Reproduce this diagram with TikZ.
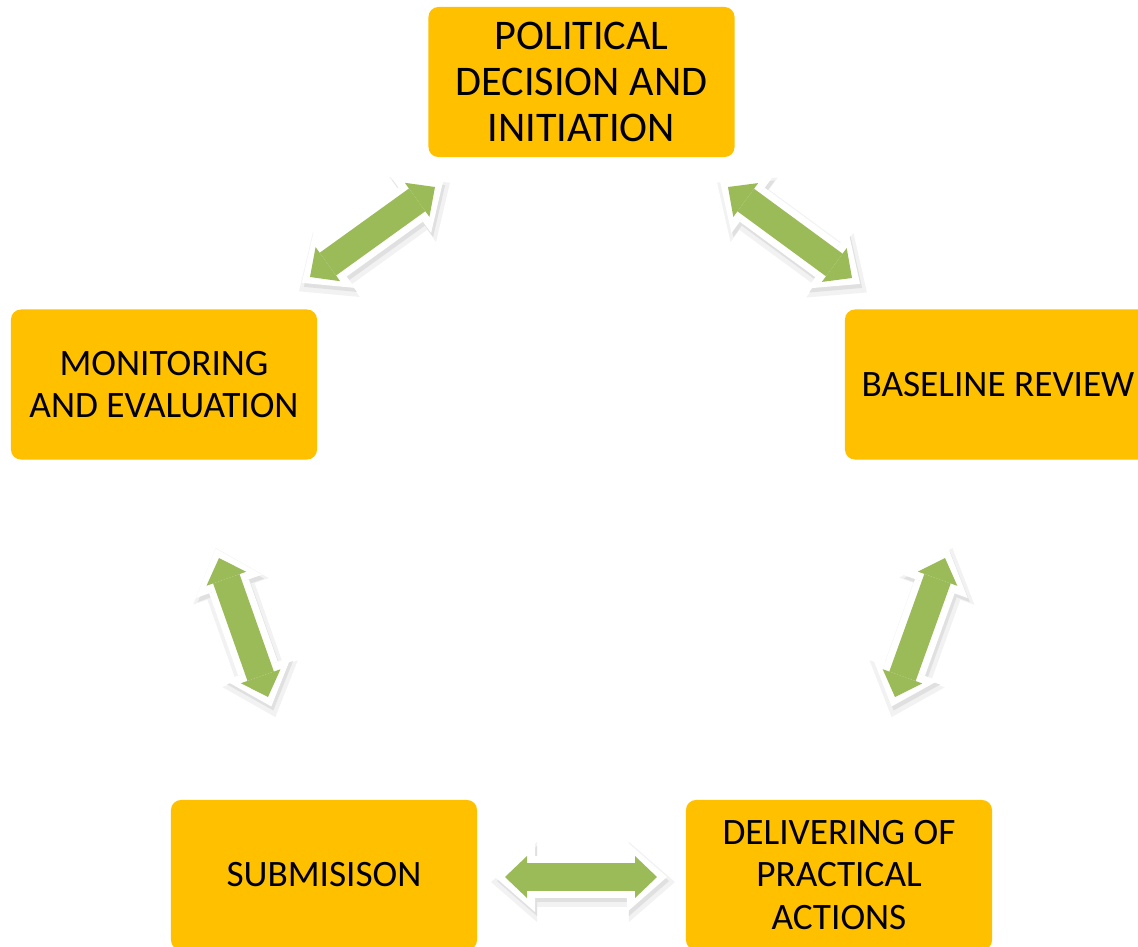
\documentclass[tikz,border=0pt]{standalone}
\usepackage{fontspec}
\setmainfont{Carlito}
\usetikzlibrary{arrows.meta}
\definecolor{boxgold}{HTML}{FFC000}
\definecolor{linkgreen}{HTML}{9BBB59}
\tikzset{font=\fontsize{26.5}{30.5}\selectfont}
\tikzset{stage/.style={fill=boxgold, rounded corners=0.25cm, minimum width=7.65cm,
    minimum height=3.75cm, align=center, inner sep=0pt}}
\tikzset{linkrim/.style={white, line width=1.05cm, shorten <=-0.25cm, shorten >=-0.25cm,
    {Triangle[width=1.75cm,length=1cm,line width=0pt]}-{Triangle[width=1.75cm,length=1cm,line width=0pt]}},
  linkshade/.style={white, line width=1.25cm, shorten <=-0.4cm, shorten >=-0.4cm,
    {Triangle[width=2cm,length=1.15cm,line width=0pt]}-{Triangle[width=2cm,length=1.15cm,line width=0pt]}},
  linkbody/.style={linkgreen, line width=0.7cm,
    {Triangle[width=1.05cm,length=0.55cm,line width=0pt]}-{Triangle[width=1.05cm,length=0.55cm,line width=0pt]}}}

\begin{document}
\begin{tikzpicture}[x=0.025cm,y=-0.025cm]
\useasboundingbox (0,0) rectangle (1138,947);
\node[stage, font=\fontsize{30}{33}\selectfont] (pol) at (581.5,82) {POLITICAL\\DECISION AND\\INITIATION};
\node[stage] (base) at (998,384.5) {BASELINE REVIEW};
\node[stage] (del) at (839,875) {DELIVERING OF\\PRACTICAL\\ACTIONS};
\node[stage] (sub) at (324,875) {SUBMISISON};
\node[stage] (mon) at (164,384.5) {MONITORING\\AND EVALUATION};
% ends of the double arrows
\coordinate (pb1) at (728,187); \coordinate (pb2) at (852,278);
\coordinate (bd1) at (945,558); \coordinate (bd2) at (895,697);
\coordinate (ds1) at (657,877); \coordinate (ds2) at (505,877);
\coordinate (sm1) at (268,697); \coordinate (sm2) at (219,558);
\coordinate (mp1) at (310,277); \coordinate (mp2) at (435,187);
\foreach \a/\b in {pb1/pb2, bd1/bd2, ds1/ds2, sm1/sm2, mp1/mp2} {
  \draw[linkshade, black!5] ([shift={(2,5)}]\a) -- ([shift={(2,5)}]\b);
  \draw[linkrim, black!12] ([shift={(2,4)}]\a) -- ([shift={(2,4)}]\b);
  \draw[linkrim] (\a) -- (\b);
  \draw[linkbody] (\a) -- (\b);
}
\end{tikzpicture}
\end{document}
